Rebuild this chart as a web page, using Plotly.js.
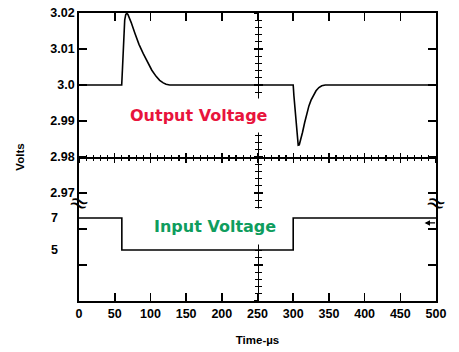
<!DOCTYPE html>
<html>
<head>
<meta charset="utf-8">
<script src="https://cdn.plot.ly/plotly-3.0.1.min.js"></script>
<style>html,body{margin:0;padding:0;background:#fff;}#chart{width:459px;height:352px;}</style>
</head>
<body>
<div id="chart"></div>
<script>
// Output voltage (V) vs time (µs)
const outTime = [0, 59.8, 61, 62.5, 64, 65.5, 67, 68.5, 70, 73, 78.4, 84, 90, 96, 102, 108, 113, 118, 122, 127,
  300, 301, 302.5, 304, 305.5, 307, 308.5, 310.5, 313, 316, 319, 322, 325, 328, 332, 336, 340, 345, 500];
const outVolts = [3.0, 3.0, 3.005, 3.012, 3.018, 3.0196, 3.0199, 3.0196, 3.019, 3.0174, 3.0143, 3.0113, 3.0087, 3.0062, 3.0041, 3.0024, 3.0013, 3.0006, 3.0002, 3.0,
  3.0, 2.997, 2.9933, 2.989, 2.9852, 2.9833, 2.9834, 2.9848, 2.9868, 2.9895, 2.9921, 2.9942, 2.9958, 2.997, 2.9984, 2.9993, 2.9998, 3.0, 3.0];
// Input voltage (V) vs time (µs)
const inTime = [0, 60, 60, 300, 300, 500];
const inVolts = [7, 7, 5, 5, 7, 7];
// Axis tick labels
const xTicks = [0, 50, 100, 150, 200, 250, 300, 350, 400, 450, 500];
const yTickVals = [2.94, 2.95, 2.96, 2.97, 2.98, 2.99, 3.0, 3.01, 3.02];
const yTickText = ['', '', '', '2.97', '2.98', '2.99', '3.0', '3.01', '3.02'];
const inTickVals = [7, 5];
const inTickText = ['7', '5'];

const tickFam = '"Liberation Sans", Arial, sans-serif';
const heavy = '"DejaVu Sans", sans-serif';

const traces = [
  {x: outTime, y: outVolts, type: 'scatter', mode: 'lines', line: {color: '#000', width: 1.6}, xaxis: 'x', yaxis: 'y', hoverinfo: 'none'},
  {x: inTime, y: inVolts, type: 'scatter', mode: 'lines', line: {color: '#000', width: 1.6}, xaxis: 'x', yaxis: 'y2', hoverinfo: 'none'}
];

const crossX = {overlaying: 'x', anchor: 'free', position: 0.5, range: [0, 500], showline: true, linecolor: '#000', linewidth: 1.6,
  tickmode: 'linear', tick0: 0, dtick: 50, ticklen: 4, tickwidth: 1.4, tickcolor: '#000', showticklabels: false, showgrid: false, zeroline: false,
  minor: {tickmode: 'linear', tick0: 0, dtick: 10, ticklen: 2.5, tickwidth: 1.2, tickcolor: '#000', showgrid: false}};
const crossY = {overlaying: 'y', anchor: 'free', position: 0.5, range: [2.94, 3.02], showline: true, linecolor: '#000', linewidth: 1.6,
  tickmode: 'linear', tick0: 2.94, dtick: 0.01, ticklen: 4, tickwidth: 1.4, tickcolor: '#000', showticklabels: false, showgrid: false, zeroline: false,
  minor: {tickmode: 'linear', tick0: 2.94, dtick: 0.002, ticklen: 2.5, tickwidth: 1.2, tickcolor: '#000', showgrid: false}};

const layout = {
  width: 459, height: 352,
  margin: {l: 79, r: 23, t: 13, b: 51},
  paper_bgcolor: '#fff', plot_bgcolor: '#fff',
  showlegend: false,
  font: {family: tickFam, color: '#000'},
  xaxis: {range: [0, 500], tickvals: xTicks, ticks: 'inside', ticklen: 8, tickwidth: 1.6, tickcolor: '#000',
    showline: true, linecolor: '#000', linewidth: 1.8, mirror: 'ticks', showgrid: false, zeroline: false,
    tickfont: {family: tickFam, size: 12.5, weight: 'bold'},
    title: {text: 'Time-µs', font: {family: tickFam, size: 11.5, weight: 'bold'}, standoff: 16}},
  yaxis: {range: [2.94, 3.02], tickvals: yTickVals, ticktext: yTickText, ticks: 'inside', ticklen: 8, tickwidth: 1.6, tickcolor: '#000',
    showline: true, linecolor: '#000', linewidth: 1.8, mirror: 'ticks', showgrid: false, zeroline: false,
    tickfont: {family: tickFam, size: 12.5, weight: 'bold'},
    title: {text: 'Volts', font: {family: tickFam, size: 11.5, weight: 'bold'}, standoff: 23}},
  yaxis2: {overlaying: 'y', range: [1.8125, 19.8125], showticklabels: false, ticks: '', showgrid: false, zeroline: false, showline: false},
  xaxis2: Object.assign({}, crossX, {ticks: 'outside', minor: Object.assign({}, crossX.minor, {ticks: 'outside'})}),
  xaxis3: Object.assign({}, crossX, {ticks: 'inside', minor: Object.assign({}, crossX.minor, {ticks: 'inside'})}),
  yaxis3: Object.assign({}, crossY, {ticks: 'outside', minor: Object.assign({}, crossY.minor, {ticks: 'outside'})}),
  yaxis4: Object.assign({}, crossY, {ticks: 'inside', minor: Object.assign({}, crossY.minor, {ticks: 'inside'})}),
  annotations: [
    {xref: 'x', yref: 'y', x: 168, y: 2.9915, text: '<b>Output Voltage</b>', showarrow: false, xanchor: 'center', yanchor: 'middle',
      font: {family: heavy, size: 16, color: '#e8143c'}, bgcolor: '#fff', borderpad: 7},
    {xref: 'x', yref: 'y2', x: 191, y: 6.45, text: '<b>Input Voltage</b>', showarrow: false, xanchor: 'center', yanchor: 'middle',
      font: {family: heavy, size: 16, color: '#0f9d5e'}, bgcolor: '#fff', borderpad: 8},
    {xref: 'paper', yref: 'y2', x: -0.084, y: inTickVals[0], text: '<b>' + inTickText[0] + '</b>', showarrow: false, xanchor: 'left', yanchor: 'middle',
      font: {family: tickFam, size: 12.5, color: '#000'}},
    {xref: 'paper', yref: 'y2', x: -0.084, y: inTickVals[1], text: '<b>' + inTickText[1] + '</b>', showarrow: false, xanchor: 'left', yanchor: 'middle',
      font: {family: tickFam, size: 12.5, color: '#000'}},
    {xref: 'paper', yref: 'y', x: 0, y: 2.9672, text: '≈', showarrow: false, xanchor: 'center', yanchor: 'middle', textangle: 20,
      font: {family: '"DejaVu Sans", sans-serif', size: 24, color: '#000'}},
    {xref: 'paper', yref: 'y', x: 1, y: 2.9672, text: '≈', showarrow: false, xanchor: 'center', yanchor: 'middle', textangle: 20,
      font: {family: '"DejaVu Sans", sans-serif', size: 24, color: '#000'}},
    {xref: 'paper', yref: 'y2', x: 0.968, y: 6.69, ax: 12, ay: 0, text: '', showarrow: true, arrowhead: 2, arrowsize: 0.9, arrowwidth: 1.2, arrowcolor: '#000'}
  ]
};

// extra traces so the crosshair axes are drawn
traces.push({x: [null], y: [null], xaxis: 'x2', yaxis: 'y', type: 'scatter', hoverinfo: 'none'});
traces.push({x: [null], y: [null], xaxis: 'x3', yaxis: 'y', type: 'scatter', hoverinfo: 'none'});
traces.push({x: [null], y: [null], xaxis: 'x', yaxis: 'y3', type: 'scatter', hoverinfo: 'none'});
traces.push({x: [null], y: [null], xaxis: 'x', yaxis: 'y4', type: 'scatter', hoverinfo: 'none'});

Plotly.newPlot('chart', traces, layout, {staticPlot: true, displayModeBar: false});
</script>
</body>
</html>
